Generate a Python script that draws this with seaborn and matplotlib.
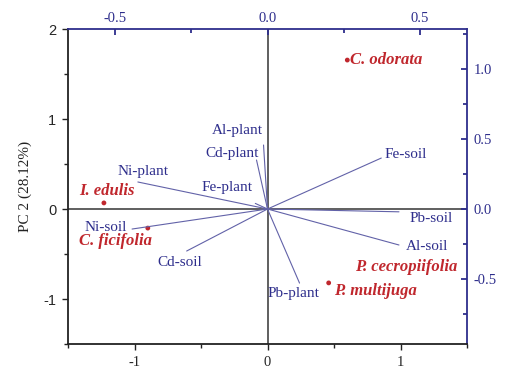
import matplotlib
matplotlib.use("Agg")
import matplotlib.pyplot as plt
import seaborn as sns
import pandas as pd
import numpy as np
from matplotlib.ticker import MultipleLocator

# ---- data ----
species = ["C. odorata", "I. edulis", "C. ficifolia", "P. multijuga"]
pc1_scores = [0.60, -1.23, -0.90, 0.46]
pc2_scores = [1.66, 0.07, -0.21, -0.82]

# label without visible marker
extra_species = ["P. cecropiifolia"]
extra_pc1 = [1.04]
extra_pc2 = [-0.64]

variables = ["Ni-plant", "Fe-plant", "Cd-plant", "Al-plant", "Ni-soil",
             "Cd-soil", "Pb-plant", "Fe-soil", "Pb-soil", "Al-soil"]
load_pc1 = [-0.425, -0.04, -0.036, -0.013, -0.444, -0.265, 0.105, 0.373, 0.431, 0.431]
load_pc2 = [0.193, 0.04, 0.35, 0.457, -0.143, -0.30, -0.529, 0.364, -0.02, -0.257]

ylabel_text = "PC 2 (28.12%)"

# ---- style ----
sns.set_theme(style="white")
plt.rcParams["font.family"] = ["Liberation Serif", "DejaVu Serif"]

RED = "#c0272d"
BLUE = "#2e2e8c"
LINEBLUE = "#6262a8"
PT = 0.72  # points per pixel at dpi 100

fig = plt.figure(figsize=(5.21, 3.77), dpi=100)
pos = [68/521, 33/377, (467-68)/521, (344-29.5)/377]
ax = fig.add_axes(pos)
ax2 = fig.add_axes(pos, frameon=False)

# main axes (scores)
ax.set_xlim(-1.5, 1.5)
ax.set_ylim(-1.5, 2.0)
ax.axhline(0, color="#444444", lw=1.2, zorder=1)
ax.axvline(0, color="#444444", lw=1.2, zorder=1)

df = pd.DataFrame({"species": species, "pc1": pc1_scores, "pc2": pc2_scores})
sns.scatterplot(data=df, x="pc1", y="pc2", ax=ax, color=RED, s=12,
                edgecolor="none", zorder=5, legend=False)

# offsets in pixels (dx right, dy up)
offsets = {
    "C. odorata": (3, 0, "left", "center"),
    "I. edulis": (3, 12, "center", "center"),
    "C. ficifolia": (-32, -13, "center", "center"),
    "P. multijuga": (5, -8, "left", "center"),
}
for s, x, y in zip(species, pc1_scores, pc2_scores):
    dx, dy, ha, va = offsets[s]
    ax.annotate(s, (x, y), xytext=(dx*PT, dy*PT), textcoords="offset points",
                ha=ha, va=va, color=RED, fontsize=12, fontweight="bold",
                fontstyle="italic", zorder=6)
for s, x, y in zip(extra_species, extra_pc1, extra_pc2):
    ax.text(x, y, s, ha="center", va="center", color=RED, fontsize=12,
            fontweight="bold", fontstyle="italic", zorder=6)

ax.set_xticks([-1, 0, 1])
ax.set_xticklabels(["-1", "0", "1"])
ax.set_yticks([-1, 0, 1, 2])
ax.set_yticklabels(["-1", "0", "1", "2"], fontfamily=["Liberation Sans", "DejaVu Sans"])
ax.xaxis.set_minor_locator(MultipleLocator(0.5))
ax.yaxis.set_minor_locator(MultipleLocator(0.5))
ax.tick_params(axis="both", which="both", direction="out", color="#222222",
               labelsize=10.5, bottom=True, left=True)
ax.tick_params(which="major", length=4.5, width=1, pad=4)
ax.tick_params(which="minor", length=3, width=1)
ax.set_xlabel("")
ax.set_ylabel(ylabel_text, fontsize=11, color="#222222", labelpad=8)
for side in ["left", "bottom"]:
    ax.spines[side].set_color("#222222")
    ax.spines[side].set_linewidth(1.3)
for side in ["top", "right"]:
    ax.spines[side].set_color(BLUE)
    ax.spines[side].set_linewidth(1.3)

# loadings axes
ax2.set_xlim(-0.654, 0.654)
ax2.set_ylim(-0.964, 1.282)
ax2.xaxis.tick_top()
ax2.yaxis.tick_right()
ax2.set_xticks([-0.5, 0.0, 0.5])
ax2.set_xticklabels(["-0.5", "0.0", "0.5"])
ax2.set_yticks([-0.5, 0.0, 0.5, 1.0])
ax2.set_yticklabels(["-0.5", "0.0", "0.5", "1.0"])
ax2.xaxis.set_minor_locator(MultipleLocator(0.25))
ax2.yaxis.set_minor_locator(MultipleLocator(0.25))
ax2.tick_params(axis="both", which="both", direction="in", color=BLUE,
                labelcolor=BLUE, labelsize=10.5, top=True, right=True,
                bottom=False, left=False, width=1.3)
ax2.tick_params(which="major", length=4)
ax2.tick_params(which="minor", length=3)
ax2.tick_params(axis="y", pad=5)

ld = pd.DataFrame({"var": variables, "x": load_pc1, "y": load_pc2})
for _, r in ld.iterrows():
    seg = pd.DataFrame({"x": [0, r["x"]], "y": [0, r["y"]]})
    sns.lineplot(data=seg, x="x", y="y", ax=ax2, color=LINEBLUE, lw=0.8,
                 sort=False, estimator=None, zorder=3)
ax2.set_xlabel("")
ax2.set_ylabel("")

# label offsets in pixels from vector tip (dx right, dy up), centered text
lab_off = {
    "Ni-plant": (5, 10),
    "Fe-plant": (-28, 16),
    "Cd-plant": (-24, 7),
    "Al-plant": (-26, 15),
    "Ni-soil": (-26, 2),
    "Cd-soil": (-7, -11),
    "Pb-plant": (-6, -10),
    "Fe-soil": (24, 4),
    "Pb-soil": (32, -7),
    "Al-soil": (28, -1),
}
for v, x, y in zip(variables, load_pc1, load_pc2):
    dx, dy = lab_off[v]
    ax2.annotate(v, (x, y), xytext=(dx*PT, dy*PT), textcoords="offset points",
                 ha="center", va="center", color=BLUE, fontsize=11, zorder=6)

fig.savefig("out.png", dpi=100)
